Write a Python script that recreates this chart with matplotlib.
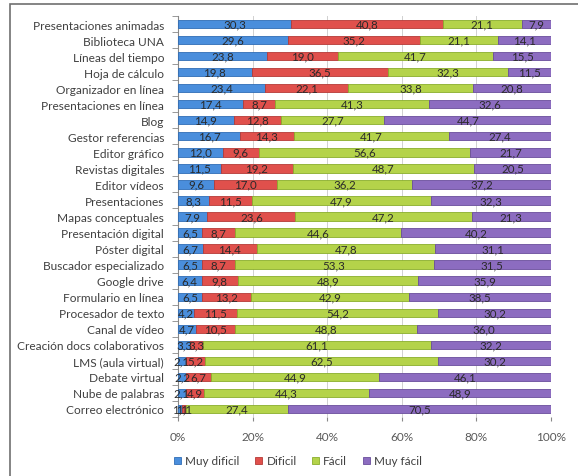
import matplotlib
matplotlib.use("Agg")
import matplotlib.pyplot as plt
import numpy as np
from matplotlib.patches import Rectangle

categories = [
    "Presentaciones animadas", "Biblioteca UNA", "Líneas del tiempo", "Hoja de cálculo",
    "Organizador en línea", "Presentaciones en línea", "Blog", "Gestor referencias",
    "Editor gráfico", "Revistas digitales", "Editor vídeos", "Presentaciones",
    "Mapas conceptuales", "Presentación digital", "Póster digital", "Buscador especializado",
    "Google drive", "Formulario en línea", "Procesador de texto", "Canal de vídeo",
    "Creación docs colaborativos", "LMS (aula virtual)", "Debate virtual",
    "Nube de palabras", "Correo electrónico",
]
muy_dificil = [30.3, 29.6, 23.8, 19.8, 23.4, 17.4, 14.9, 16.7, 12.0, 11.5, 9.6, 8.3, 7.9,
               6.5, 6.7, 6.5, 6.4, 6.5, 4.2, 4.7, 3.3, 2.1, 2.2, 2.1, 1.1]
dificil = [40.8, 35.2, 19.0, 36.5, 22.1, 8.7, 12.8, 14.3, 9.6, 19.2, 17.0, 11.5, 23.6,
           8.7, 14.4, 8.7, 9.8, 13.2, 11.5, 10.5, 3.3, 5.2, 6.7, 4.9, 1.1]
facil = [21.1, 21.1, 41.7, 32.3, 33.8, 41.3, 27.7, 41.7, 56.6, 48.7, 36.2, 47.9, 47.2,
         44.6, 47.8, 53.3, 48.9, 42.9, 54.2, 48.8, 61.1, 62.5, 44.9, 44.3, 27.4]
muy_facil = [7.9, 14.1, 15.5, 11.5, 20.8, 32.6, 44.7, 27.4, 21.7, 20.5, 37.2, 32.3, 21.3,
             40.2, 31.1, 31.5, 35.9, 38.5, 30.2, 36.0, 32.2, 30.2, 46.1, 48.9, 70.5]
series_names = ["Muy dificil", "Dificil", "Fácil", "Muy fácil"]
x_ticks = [0, 20, 40, 60, 80, 100]
x_tick_labels = ["0%", "20%", "40%", "60%", "80%", "100%"]

colors = ["#4A8EDC", "#E0504C", "#B4D34A", "#8C6CC0"]
edges = ["#2F6DB5", "#B53A36", "#8AAE2C", "#6A4E9C"]

plt.rcParams["font.family"] = ["Lato", "DejaVu Sans"]

fig = plt.figure(figsize=(5.78, 4.77), dpi=100)
ax = fig.add_axes([178 / 578, 1 - 418 / 477, (551 - 178) / 578, (418 - 17) / 477])

data = np.array([muy_dificil, dificil, facil, muy_facil])
totals = data.sum(axis=0)
norm = data / totals * 100
y = np.arange(len(categories))
left = np.zeros(len(categories))
for i in range(4):
    ax.barh(y, norm[i], left=left, height=0.52, color=colors[i], edgecolor=edges[i],
            linewidth=0.6, label=series_names[i], zorder=3)
    for j in range(len(categories)):
        ax.text(left[j] + norm[i][j] / 2, y[j], f"{data[i][j]:.1f}".replace(".", ","),
                ha="center", va="center", fontsize=8.3, color="#2a2a2a", zorder=4)
    left += norm[i]

ax.set_xlim(0, 100)
ax.set_ylim(len(categories) - 0.5, -0.5)
ax.set_yticks(y)
ax.set_yticklabels(categories, fontsize=8.6, color="#404040")
ax.set_yticks(np.arange(len(categories) + 1) - 0.5, minor=True)
ax.tick_params(axis="y", which="major", length=0, pad=10)
ax.tick_params(axis="y", which="minor", length=4, color="#888888")
ax.set_xticks(x_ticks)
ax.set_xticklabels(x_tick_labels, fontsize=8.5, color="#595959")
ax.tick_params(axis="x", length=3, color="#888888", pad=7)
ax.grid(axis="x", color="#D0D0D0", linewidth=0.7, zorder=0)
for s in ["top", "right", "bottom"]:
    ax.spines[s].set_visible(False)
ax.spines["left"].set_color("#888888")
ax.spines["left"].set_linewidth(0.8)

handles, labels = ax.get_legend_handles_labels()
fig.legend(handles, labels, loc="center", bbox_to_anchor=(298 / 578, 1 - 462 / 477),
           ncol=4, frameon=False, fontsize=8.5, handlelength=0.6, handleheight=0.6,
           columnspacing=1.3, handletextpad=0.35, labelcolor="#404040")

fig.patches.append(Rectangle((10 / 578, -0.05), 1.1, 1 - 5 / 477 + 0.05, transform=fig.transFigure,
                             fill=False, edgecolor="#707070", linewidth=1.2))

fig.savefig("out.png", dpi=100)
